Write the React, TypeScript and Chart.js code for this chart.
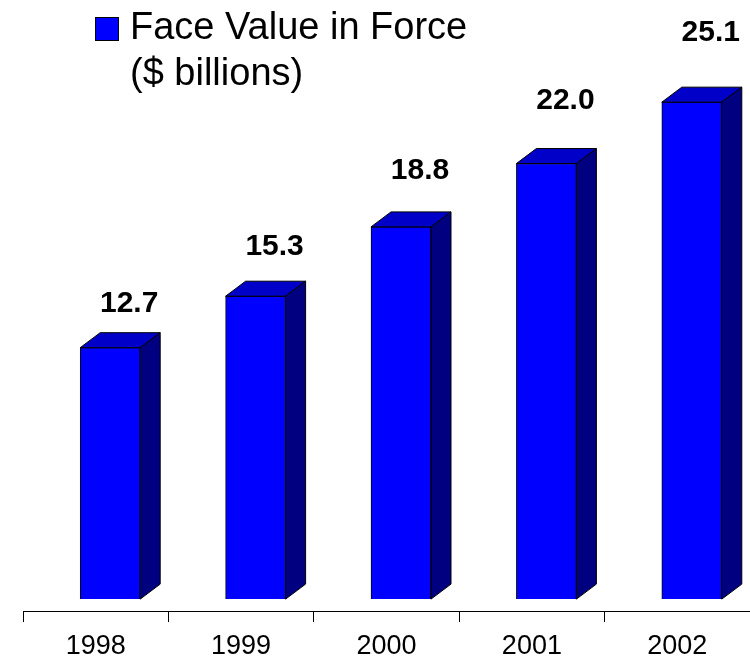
import React, { useEffect, useRef } from "react";
import { Chart, registerables } from "chart.js";

Chart.register(...registerables);

const years = ["1998", "1999", "2000", "2001", "2002"];
const faceValues = [12.7, 15.3, 18.8, 22.0, 25.1];
const valueLabels = ["12.7", "15.3", "18.8", "22.0", "25.1"];
const legendLines = ["Face Value in Force", "($ billions)"];

const FONT = "'Liberation Sans', Arial, Helvetica, sans-serif";
const SHIFT = 14.5; // 3D front-face shift
const DX = 20;
const DY = 15;

const bar3d = {
  id: "bar3d",
  beforeDatasetsDraw(chart: any) {
    chart.ctx.save();
    chart.ctx.translate(SHIFT, 0);
  },
  afterDatasetsDraw(chart: any) {
    const ctx = chart.ctx;
    const meta = chart.getDatasetMeta(0);
    ctx.lineWidth = 1;
    ctx.strokeStyle = "#000000";
    meta.data.forEach((el: any) => {
      const { x, y, base, width } = el.getProps(["x", "y", "base", "width"], true);
      const L = x - width / 2;
      const R = x + width / 2;
      // top face
      ctx.beginPath();
      ctx.moveTo(L, y);
      ctx.lineTo(R, y);
      ctx.lineTo(R + DX, y - DY);
      ctx.lineTo(L + DX, y - DY);
      ctx.closePath();
      ctx.fillStyle = "#0000C8";
      ctx.fill();
      ctx.stroke();
      // side face
      ctx.beginPath();
      ctx.moveTo(R, y);
      ctx.lineTo(R + DX, y - DY);
      ctx.lineTo(R + DX, base - DY);
      ctx.lineTo(R, base);
      ctx.closePath();
      ctx.fillStyle = "#000080";
      ctx.fill();
      ctx.stroke();
    });
    ctx.restore();

    // value labels
    const yScale = chart.scales.y;
    ctx.save();
    ctx.font = `bold 30px ${FONT}`;
    ctx.fillStyle = "#000000";
    ctx.textAlign = "center";
    ctx.textBaseline = "middle";
    meta.data.forEach((el: any, i: number) => {
      const v = faceValues[i];
      const lx = el.x + SHIFT + 19;
      const ly = yScale.getPixelForValue(v * 1.104) - 17.5;
      ctx.fillText(valueLabels[i], lx, ly);
    });
    ctx.restore();
  },
};

const legendPlugin = {
  id: "customLegend",
  afterDraw(chart: any) {
    const ctx = chart.ctx;
    ctx.save();
    ctx.fillStyle = "#0000FF";
    ctx.fillRect(95.5, 17.5, 23, 23);
    ctx.strokeStyle = "#000000";
    ctx.lineWidth = 1;
    ctx.strokeRect(95.5, 17.5, 23, 23);
    ctx.fillStyle = "#000000";
    ctx.font = `38px ${FONT}`;
    ctx.textAlign = "left";
    ctx.textBaseline = "alphabetic";
    ctx.fillText(legendLines[0], 130, 39);
    ctx.fillText(legendLines[1], 130, 85);
    ctx.restore();
  },
};

export default function App() {
  const ref = useRef<HTMLCanvasElement | null>(null);
  useEffect(() => {
    if (!ref.current) return;
    const chart = new Chart(ref.current, {
      type: "bar",
      data: {
        labels: years,
        datasets: [
          {
            label: legendLines.join(" "),
            data: faceValues,
            backgroundColor: "#0000FF",
            borderColor: "#000000",
            borderWidth: 1,
            barThickness: 60,
          },
        ],
      },
      options: {
        responsive: false,
        animation: false,
        devicePixelRatio: 1,
        layout: { padding: { left: 23, right: 0, top: 0, bottom: 0 } },
        plugins: {
          legend: { display: false },
          tooltip: { enabled: false },
          title: { display: false },
        },
        scales: {
          y: {
            display: false,
            min: -0.6,
            max: 30.26,
          },
          x: {
            afterFit: (scale: any) => {
              scale.height = 48;
            },
            grid: {
              offset: true,
              drawOnChartArea: false,
              drawTicks: true,
              tickLength: 11,
              color: "#000000",
              lineWidth: 1,
            },
            border: { display: true, color: "#000000", width: 1 },
            ticks: {
              color: "#000000",
              padding: 8,
              font: { family: FONT, size: 27 },
              maxRotation: 0,
            },
          },
        },
      },
      plugins: [bar3d, legendPlugin],
    });
    return () => chart.destroy();
  }, []);
  return (
    <div style={{ position: "absolute", left: 0, top: 0, width: 750, height: 659, background: "#fff" }}>
      <canvas ref={ref} width={750} height={659} style={{ display: "block" }} />
    </div>
  );
}
